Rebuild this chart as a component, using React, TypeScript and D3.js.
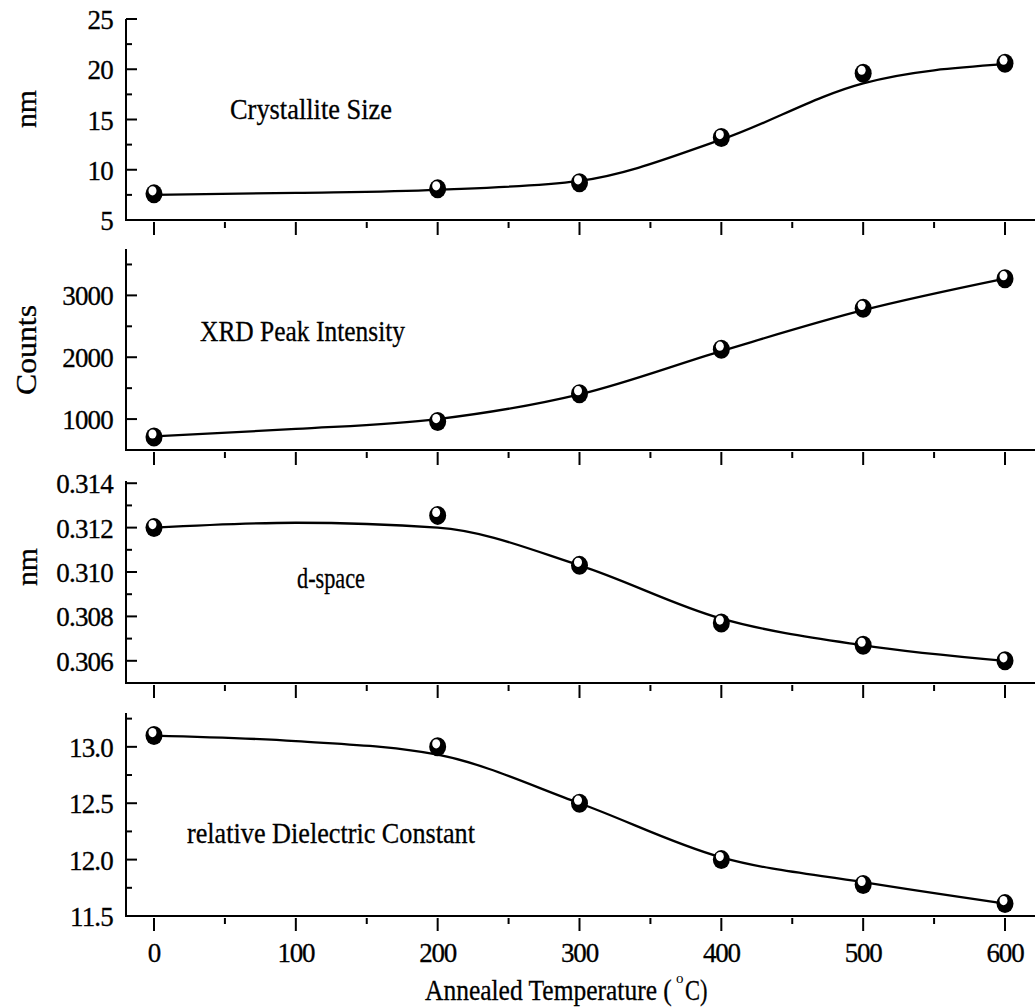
import React from "react";
import * as d3 from "d3";

// ---- data ----
const temps = [0, 200, 300, 400, 500, 600];
const fitTemps = [0, 100, 200, 300, 400, 500, 600];

const crystalliteSize = [7.6, 8.1, 8.7, 13.2, 19.6, 20.6];
const crystalliteFit = [7.5, 7.7, 8.0, 8.9, 13.0, 18.6, 20.5];

const peakIntensity = [710, 960, 1410, 2130, 2790, 3270];
const peakFit = [720, 840, 1000, 1400, 2100, 2760, 3270];

const dSpace = [0.312, 0.31255, 0.3103, 0.3077, 0.3067, 0.306];
const dSpaceFit = [0.312, 0.31222, 0.312, 0.3103, 0.3079, 0.3067, 0.306];

const dielectric = [13.1, 13.0, 12.5, 12.0, 11.78, 11.61];
const dielectricFit = [13.1, 13.05, 12.93, 12.5, 12.02, 11.8, 11.61];

const xMajorTicks = [0, 100, 200, 300, 400, 500, 600];
const xMinorTicks = [50, 150, 250, 350, 450, 550];

const panelNames = ["Crystallite Size", "XRD Peak Intensity", "d-space", "relative Dielectric Constant"];
const yTitles = ["nm", "Counts", "nm", ""];

type Panel = {
  top: number;
  bottom: number;
  domain: [number, number];
  major: number[];
  minor: number[];
  labels: string[];
  values: number[];
  fit: number[];
  name: string;
  nameX: number;
  nameY: number;
  nameW: number;
  yTitle: string;
  yTitleX: number;
  yTitleY: number;
  yTitleW: number;
};

const panels: Panel[] = [
  {
    top: 19, bottom: 220, domain: [5, 25],
    major: [5, 10, 15, 20, 25], minor: [7.5, 12.5, 17.5, 22.5],
    labels: ["5", "10", "15", "20", "25"],
    values: crystalliteSize, fit: crystalliteFit,
    name: panelNames[0], nameX: 230, nameY: 119, nameW: 162,
    yTitle: yTitles[0], yTitleX: 36, yTitleY: 109, yTitleW: 38,
  },
  {
    top: 249, bottom: 450, domain: [500, 3750],
    major: [1000, 2000, 3000], minor: [1500, 2500, 3500],
    labels: ["1000", "2000", "3000"],
    values: peakIntensity, fit: peakFit,
    name: panelNames[1], nameX: 200, nameY: 341, nameW: 205,
    yTitle: yTitles[1], yTitleX: 36, yTitleY: 350, yTitleW: 90,
  },
  {
    top: 481, bottom: 683, domain: [0.305, 0.3141],
    major: [0.306, 0.308, 0.31, 0.312, 0.314], minor: [0.307, 0.309, 0.311, 0.313],
    labels: ["0.306", "0.308", "0.310", "0.312", "0.314"],
    values: dSpace, fit: dSpaceFit,
    name: panelNames[2], nameX: 297, nameY: 588, nameW: 68,
    yTitle: yTitles[2], yTitleX: 37, yTitleY: 567, yTitleW: 38,
  },
  {
    top: 713, bottom: 916, domain: [11.5, 13.3],
    major: [11.5, 12.0, 12.5, 13.0], minor: [11.75, 12.25, 12.75, 13.25],
    labels: ["11.5", "12.0", "12.5", "13.0"],
    values: dielectric, fit: dielectricFit,
    name: panelNames[3], nameX: 187, nameY: 843, nameW: 288,
    yTitle: yTitles[3], yTitleX: 0, yTitleY: 0, yTitleW: 0,
  },
];

const W = 1035;
const H = 1008;
const axisX = 126;
const FONT = "'Liberation Serif', 'DejaVu Serif', serif";

function Marker({ cx, cy }: { cx: number; cy: number }) {
  return (
    <g transform={`translate(${cx},${cy})`}>
      <ellipse rx={8.5} ry={9.5} fill="#000" />
      <ellipse cx={-1.5} cy={-3} rx={4} ry={4.6} fill="#fff" />
    </g>
  );
}

export default function App() {
  const x = d3.scaleLinear().domain([0, 600]).range([154, 1005]);

  return (
    <svg
      width={W}
      height={H}
      viewBox={`0 0 ${W} ${H}`}
      style={{ position: "absolute", left: 0, top: 0, background: "#fff" }}
      fontFamily={FONT}
    >
      <rect x={0} y={0} width={W} height={H} fill="#fff" />
      {panels.map((p, i) => {
        const y = d3.scaleLinear().domain(p.domain).range([p.bottom, p.top]);
        const line = d3
          .line<number>()
          .x((_, j) => x(fitTemps[j]))
          .y((d) => y(d))
          .curve(d3.curveMonotoneX);
        const isLast = i === panels.length - 1;
        return (
          <g key={i}>
            <line x1={axisX} y1={p.top} x2={axisX} y2={p.bottom} stroke="#000" strokeWidth={2} />
            <line x1={axisX - 1} y1={p.bottom} x2={W} y2={p.bottom} stroke="#000" strokeWidth={2} />
            {p.major.map((v) => (
              <line key={"M" + v} x1={axisX} x2={axisX + 11} y1={y(v)} y2={y(v)} stroke="#000" strokeWidth={2} />
            ))}
            {p.minor.map((v) => (
              <line key={"m" + v} x1={axisX} x2={axisX + 6} y1={y(v)} y2={y(v)} stroke="#000" strokeWidth={2} />
            ))}
            {p.major.map((v, k) => (
              <text key={"L" + v} x={113} y={y(v) + 10} textAnchor="end" fontSize={27} fill="#000"
                fontFamily={FONT} stroke="#000" strokeWidth={0.3} letterSpacing={-0.8}>
                {p.labels[k]}
              </text>
            ))}
            {xMajorTicks.map((t) => (
              <line key={"xM" + t} x1={x(t)} x2={x(t)} y1={p.bottom + 2} y2={p.bottom + 15} stroke="#000" strokeWidth={2} />
            ))}
            {xMinorTicks.map((t) => (
              <line key={"xm" + t} x1={x(t)} x2={x(t)} y1={p.bottom + 2} y2={p.bottom + 8} stroke="#000" strokeWidth={2} />
            ))}
            {isLast &&
              xMajorTicks.map((t) => (
                <text key={"xl" + t} x={x(t)} y={962} textAnchor="middle" fontSize={27} fill="#000"
                  fontFamily={FONT} stroke="#000" strokeWidth={0.3} letterSpacing={-1.2}>
                  {t}
                </text>
              ))}
            <path d={line(p.fit) || ""} fill="none" stroke="#000" strokeWidth={2.3} />
            {p.values.map((v, j) => (
              <Marker key={"pt" + j} cx={x(temps[j])} cy={y(v)} />
            ))}
            <text
              x={p.nameX}
              y={p.nameY}
              fontSize={30}
              fill="#000"
              stroke="#000"
              strokeWidth={0.3}
              textLength={p.nameW}
              lengthAdjust="spacingAndGlyphs"
            >
              {p.name}
            </text>
            {p.yTitle && (
              <text
                transform={`translate(${p.yTitleX},${p.yTitleY}) rotate(-90)`}
                textAnchor="middle"
                fontSize={29}
                fill="#000"
                stroke="#000"
                strokeWidth={0.3}
                textLength={p.yTitleW}
                lengthAdjust="spacingAndGlyphs"
              >
                {p.yTitle}
              </text>
            )}
          </g>
        );
      })}
      <text transform="translate(425,1000) scale(0.85,1)" fontSize={30} fill="#000" stroke="#000" strokeWidth={0.3}>
        Annealed Temperature (
      </text>
      <text x={676} y={983} fontSize={15} fill="#000">o</text>
      <text transform="translate(685,1000) scale(0.75,1)" fontSize={30} fill="#000" stroke="#000" strokeWidth={0.3}>
        C)
      </text>
    </svg>
  );
}
